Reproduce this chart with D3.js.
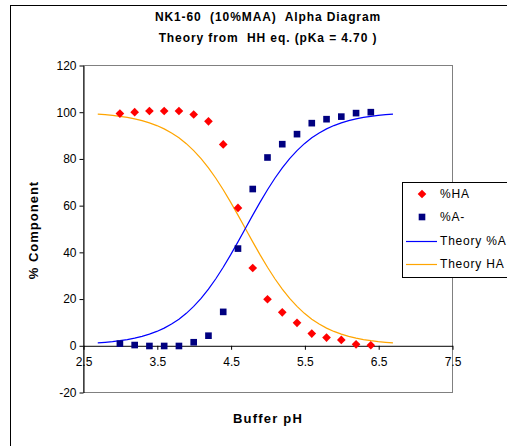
<!DOCTYPE html>
<html>
<head>
<meta charset="utf-8">
<script src="https://cdn.jsdelivr.net/npm/d3@7"></script>
<style>
  html, body { margin: 0; padding: 0; background: #fff; }
  svg { display: block; font-family: "Liberation Sans", Arial, sans-serif; }
  .keep-space { white-space: pre; }
</style>
</head>
<body>
<svg id="chart" width="507" height="446"></svg>
<script>
// Measured buffer pH points
const phMeasured = [3.0, 3.2, 3.4, 3.6, 3.8, 4.0, 4.2, 4.4, 4.6, 4.8, 5.0, 5.2, 5.4, 5.6, 5.8, 6.0, 6.2, 6.4];
const pctHA = [99.2, 99.8, 100.3, 100.3, 100.3, 98.8, 95.9, 86.0, 58.8, 33.1, 19.7, 14.1, 9.6, 5.0, 3.3, 2.3, 0.4, 0.0];
const pctA = [0.7, 0.1, -0.3, -0.3, -0.3, 1.3, 4.1, 14.3, 41.4, 66.9, 80.4, 86.1, 90.4, 95.1, 96.8, 97.9, 99.4, 99.8];

// Henderson-Hasselbalch theory curves (pKa = 4.70), tabulated per 0.1 pH
const phTheory = [2.7, 2.8, 2.9, 3.0, 3.1, 3.2, 3.3, 3.4, 3.5, 3.6, 3.7, 3.8, 3.9, 4.0, 4.1, 4.2, 4.3, 4.4, 4.5, 4.6,
                  4.7, 4.8, 4.9, 5.0, 5.1, 5.2, 5.3, 5.4, 5.5, 5.6, 5.7, 5.8, 5.9, 6.0, 6.1, 6.2, 6.3, 6.4, 6.5, 6.6, 6.7];
const theoryA = [0.99, 1.24, 1.56, 1.96, 2.45, 3.07, 3.83, 4.77, 5.93, 7.36, 9.09, 11.18, 13.68, 16.63, 20.08, 24.03,
                 28.47, 33.39, 38.69, 44.27, 50.0, 55.73, 61.31, 66.61, 71.53, 75.97, 79.92, 83.37, 86.32, 88.82,
                 90.91, 92.64, 94.07, 95.23, 96.17, 96.93, 97.55, 98.04, 98.44, 98.76, 99.01];
const theoryHA = [99.01, 98.76, 98.44, 98.04, 97.55, 96.93, 96.17, 95.23, 94.07, 92.64, 90.91, 88.82, 86.32, 83.37,
                  79.92, 75.97, 71.53, 66.61, 61.31, 55.73, 50.0, 44.27, 38.69, 33.39, 28.47, 24.03, 20.08, 16.63,
                  13.68, 11.18, 9.09, 7.36, 5.93, 4.77, 3.83, 3.07, 2.45, 1.96, 1.56, 1.24, 0.99];

const xTicks = [2.5, 3.5, 4.5, 5.5, 6.5, 7.5];
const yTicks = [-20, 0, 20, 40, 60, 80, 100, 120];

const titleLines = ["NK1-60  (10%MAA)  Alpha Diagram", "Theory from  HH eq. (pKa = 4.70 )"];
const legendLabels = ["%HA", "%A-", "Theory %A", "Theory HA"];

const colors = { ha: "#FF0000", a: "#000080", theoryA: "#0000FF", theoryHA: "#FFA500" };

const svg = d3.select("#chart");

// Outer chart frame
svg.append("rect")
  .attr("x", 10.5).attr("y", 5.5)
  .attr("width", 540).attr("height", 480)
  .attr("fill", "#fff").attr("stroke", "#000").attr("stroke-width", 1);

const plot = { left: 83, right: 452, top: 65, bottom: 392 };

const x = d3.scaleLinear().domain([2.5, 7.5]).range([plot.left, plot.right]);
const y = d3.scaleLinear().domain([-20, 120]).range([plot.bottom, plot.top]);

// Plot area border (grey)
svg.append("rect")
  .attr("x", plot.left + 0.5).attr("y", plot.top + 0.5)
  .attr("width", plot.right - plot.left).attr("height", plot.bottom - plot.top)
  .attr("fill", "none").attr("stroke", "#808080").attr("stroke-width", 1);

// Y axis (plain hyphen for negatives)
const yFormat = d => (d < 0 ? "-" + Math.abs(d) : String(d));
const yAxis = svg.append("g")
  .attr("transform", `translate(${plot.left + 0.5},0.5)`)
  .call(d3.axisLeft(y).tickValues(yTicks).tickSize(4).tickSizeOuter(0).tickPadding(3).tickFormat(yFormat));
yAxis.select(".domain").attr("stroke", "#000");
yAxis.selectAll(".tick line").attr("stroke", "#000");
yAxis.selectAll("text").attr("font-size", 12).attr("fill", "#000")
  .attr("font-family", "Liberation Sans, Arial, sans-serif");

// X axis crossing at y = 0
const xAxis = svg.append("g")
  .attr("transform", `translate(0.5,${y(0) + 0.5})`)
  .call(d3.axisBottom(x).tickValues(xTicks).tickSize(4).tickSizeOuter(0).tickPadding(8).tickFormat(d3.format(".1f")));
xAxis.select(".domain").attr("stroke", "#000");
xAxis.selectAll(".tick line").attr("stroke", "#000");
xAxis.selectAll("text").attr("font-size", 12).attr("fill", "#000")
  .attr("font-family", "Liberation Sans, Arial, sans-serif");

// Theory curves
const lineGen = (vals) => d3.line()
  .x((d, i) => x(phTheory[i]))
  .y((d) => y(d))(vals);

svg.append("path")
  .attr("d", lineGen(theoryHA))
  .attr("fill", "none").attr("stroke", colors.theoryHA).attr("stroke-width", 1.2);
svg.append("path")
  .attr("d", lineGen(theoryA))
  .attr("fill", "none").attr("stroke", colors.theoryA).attr("stroke-width", 1.2);

// Measured points
const diamond = d3.symbol().type(d3.symbolDiamond2).size(48);
const square = d3.symbol().type(d3.symbolSquare).size(44);

svg.append("g").selectAll("path")
  .data(pctHA)
  .join("path")
  .attr("d", diamond)
  .attr("transform", (d, i) => `translate(${x(phMeasured[i])},${y(d)})`)
  .attr("fill", colors.ha);

svg.append("g").selectAll("path")
  .data(pctA)
  .join("path")
  .attr("d", square)
  .attr("transform", (d, i) => `translate(${x(phMeasured[i])},${y(d)})`)
  .attr("fill", colors.a);

// Titles
svg.selectAll("text.title")
  .data(titleLines)
  .join("text")
  .attr("class", "title keep-space")
  .attr("x", 268).attr("y", (d, i) => 21 + i * 21)
  .attr("text-anchor", "middle")
  .attr("font-size", 12).attr("font-weight", "bold")
  .attr("letter-spacing", 0.9)
  .text(d => d);

// Axis titles
svg.append("text")
  .attr("transform", "translate(38,230) rotate(-90)")
  .attr("text-anchor", "middle")
  .attr("font-size", 13).attr("font-weight", "bold")
  .attr("letter-spacing", 1)
  .text("% Component");

svg.append("text")
  .attr("x", 268).attr("y", 423)
  .attr("text-anchor", "middle")
  .attr("font-size", 13).attr("font-weight", "bold")
  .attr("letter-spacing", 1.2)
  .text("Buffer pH");

// Legend
const legend = svg.append("g");
legend.append("rect")
  .attr("x", 402.5).attr("y", 182.5)
  .attr("width", 130).attr("height", 95)
  .attr("fill", "#fff").attr("stroke", "#000").attr("stroke-width", 1);

const rowY = [194, 217, 241, 264];
legend.append("path").attr("d", diamond)
  .attr("transform", `translate(422,${rowY[0]})`).attr("fill", colors.ha);
legend.append("path").attr("d", square)
  .attr("transform", `translate(422,${rowY[1]})`).attr("fill", colors.a);
legend.append("line")
  .attr("x1", 406).attr("x2", 437).attr("y1", rowY[2] + 0.5).attr("y2", rowY[2] + 0.5)
  .attr("stroke", colors.theoryA).attr("stroke-width", 1.2);
legend.append("line")
  .attr("x1", 406).attr("x2", 437).attr("y1", rowY[3] + 0.5).attr("y2", rowY[3] + 0.5)
  .attr("stroke", colors.theoryHA).attr("stroke-width", 1.2);

legend.selectAll("text")
  .data(legendLabels)
  .join("text")
  .attr("x", 440).attr("y", (d, i) => rowY[i])
  .attr("dy", "0.36em")
  .attr("font-size", 12)
  .attr("letter-spacing", 0.8)
  .text(d => d);
</script>
</body>
</html>
